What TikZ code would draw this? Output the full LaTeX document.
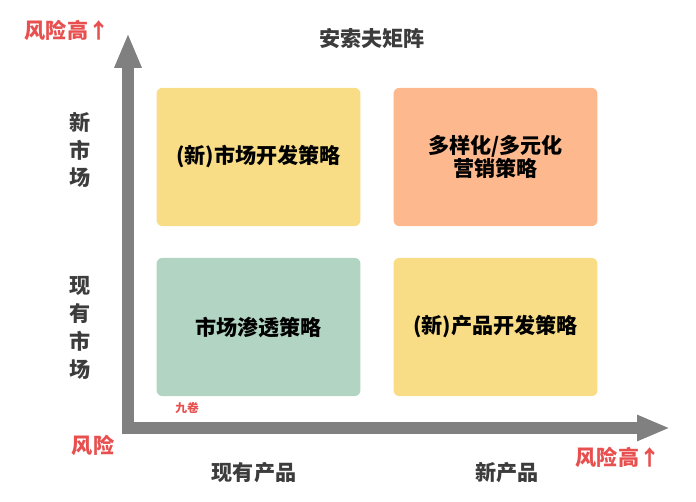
\documentclass[tikz,border=0pt]{standalone}
\usepackage{fontspec}
\setmainfont{Noto Sans CJK SC}
\usepackage{tikz}
\usetikzlibrary{arrows.meta,positioning}
\definecolor{riskred}{RGB}{232,80,80}
\definecolor{axisgray}{RGB}{128,128,128}
\definecolor{labelgray}{RGB}{60,60,60}
\definecolor{boxyellow}{RGB}{248,220,134}
\definecolor{boxorange}{RGB}{253,185,141}
\definecolor{boxgreen}{RGB}{177,212,195}

\begin{document}
\begin{tikzpicture}[x=0.03cm, y=-0.03cm,
    quadrant/.style={rectangle, rounded corners=5pt, minimum width=174pt, minimum height=118pt, align=center, font=\fontsize{18}{19}\selectfont\bfseries, text=black, inner sep=0pt},
    axislabel/.style={font=\fontsize{18}{23.8}\selectfont\bfseries, text=labelgray, align=center},
    risklabel/.style={font=\fontsize{18}{22}\selectfont\bfseries, text=riskred},
    axisline/.style={draw=axisgray, line width=10.6pt, line join=miter}
  ]
    \useasboundingbox (0,0) rectangle (696,501);

    % Axes
    \coordinate (origin) at (128,428);
    \coordinate (ytip) at (128,33);
    \coordinate (xtip) at (670,428);
    \draw[axisline, {Triangle[width=21.3pt, length=29.8pt]}-{Triangle[width=20.4pt, length=28pt]}] (ytip) -- (origin) -- (xtip);

    % Quadrants
    \node[quadrant, fill=boxyellow] (marketdev) at (258.5,157) {(新)市场开发策略};
    \node[quadrant, fill=boxorange] (diversify) at (495.5,157) {多样化/多元化\\营销策略};
    \node[quadrant, fill=boxgreen] (penetrate) at (258.5,327) {市场渗透策略};
    \node[quadrant, fill=boxyellow] (productdev) at (495.5,327) {(新)产品开发策略};

    % Labels
    \node[axislabel] (title) at (372,39) {安索夫矩阵};
    \node[axislabel] (newmarket) at (80,150) {新\\市\\场};
    \node[axislabel] (curmarket) at (80,328) {现\\有\\市\\场};
    \node[axislabel] (curproduct) at (254,473) {现有产品};
    \node[axislabel] (newproduct) at (507,473) {新产品};

    % Risk notes
    \node[risklabel] (risktop) at (67,30) {风险高↑};
    \node[risklabel] (risklow) at (93,445) {风险};
    \node[risklabel] (riskright) at (618,457) {风险高↑};
    \node[font=\fontsize{10}{11}\selectfont\bfseries, text=riskred] (mark) at (187,408) {九卷};
  \end{tikzpicture}
\end{document}
